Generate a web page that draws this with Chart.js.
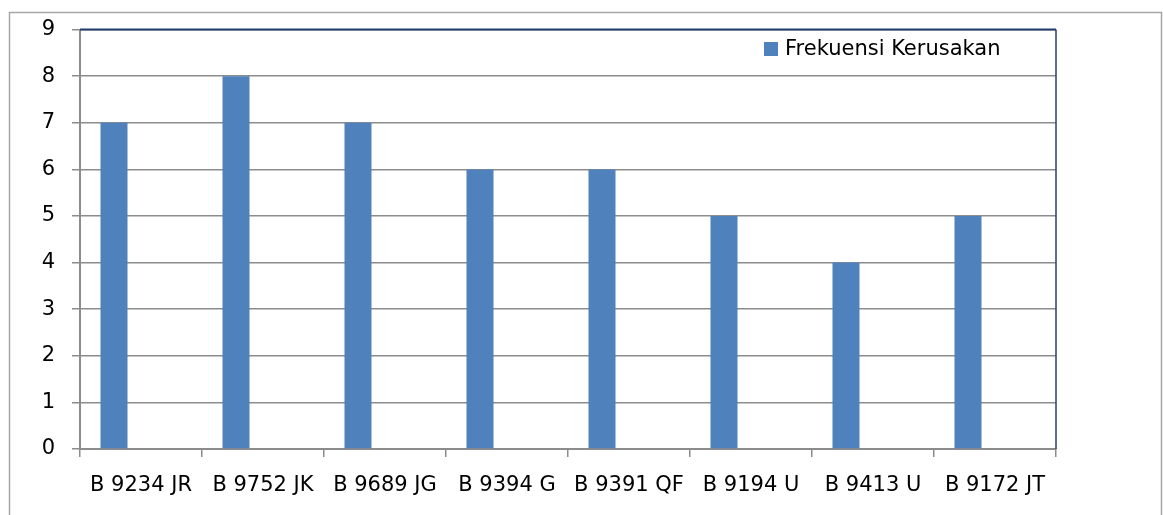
<!DOCTYPE html>
<html>
<head>
<meta charset="utf-8">
<script src="https://cdn.jsdelivr.net/npm/chart.js@4.4.0/dist/chart.umd.min.js"></script>
<style>
html,body{margin:0;padding:0;background:#fff;}
#wrap{width:1163px;height:515px;position:relative;}
</style>
</head>
<body>
<div id="wrap"><canvas id="c" width="1163" height="515"></canvas></div>
<script>
const categories = ["B 9234 JR","B 9752 JK","B 9689 JG","B 9394 G","B 9391 QF","B 9194 U","B 9413 U","B 9172 JT"];
const frekuensi = [7,8,7,6,6,5,4,5];
const seriesLabel = "Frekuensi Kerusakan";
const yTicks = [0,1,2,3,4,5,6,7,8,9];

const FONT = "'DejaVu Sans', sans-serif";
const GRID = "#8c8c8c";
const NAVY = "#243f6b";
const BAR = "#4f81bd";

const frame = {
  id: 'frame',
  beforeDraw(chart) {
    const ctx = chart.ctx;
    ctx.save();
    ctx.strokeStyle = "#a6a6a6";
    ctx.lineWidth = 1.5;
    ctx.beginPath();
    ctx.moveTo(9.5, 530);
    ctx.lineTo(9.5, 12.5);
    ctx.lineTo(1161.5, 12.5);
    ctx.lineTo(1161.5, 530);
    ctx.stroke();
    ctx.restore();
  },
  afterDraw(chart) {
    const ctx = chart.ctx;
    const a = chart.chartArea;
    ctx.save();
    ctx.strokeStyle = NAVY;
    ctx.lineWidth = 2;
    ctx.beginPath();
    ctx.moveTo(a.left, a.top);
    ctx.lineTo(a.right, a.top);
    ctx.stroke();
    ctx.lineWidth = 1.5;
    ctx.beginPath();
    ctx.moveTo(a.right, a.top);
    ctx.lineTo(a.right, a.bottom);
    ctx.stroke();
    // legend
    const ds = chart.data.datasets[0];
    ctx.fillStyle = ds.backgroundColor;
    ctx.fillRect(764, 42, 14, 14);
    ctx.fillStyle = "#000";
    ctx.font = "21px " + FONT;
    ctx.textBaseline = "middle";
    ctx.textAlign = "left";
    ctx.fillText(ds.label, 785, 50);
    ctx.restore();
  }
};

new Chart(document.getElementById('c'), {
  type: 'bar',
  data: {
    labels: categories,
    datasets: [
      { label: seriesLabel, data: frekuensi, backgroundColor: BAR },
      { label: "", data: [], backgroundColor: "rgba(0,0,0,0)" },
      { label: " ", data: [], backgroundColor: "rgba(0,0,0,0)" }
    ]
  },
  options: {
    responsive: false,
    animation: false,
    devicePixelRatio: 1,
    layout: { padding: { left: 0, top: 27, right: 107, bottom: 0 } },
    datasets: { bar: { categoryPercentage: 0.664, barPercentage: 1.0 } },
    plugins: { legend: { display: false }, tooltip: { enabled: false } },
    scales: {
      x: {
        grid: { offset: true, drawOnChartArea: false, drawTicks: true, tickLength: 8, color: GRID, lineWidth: 1.5 },
        border: { color: GRID, width: 2 },
        ticks: { color: "#000", font: { family: FONT, size: 21 }, padding: 16, maxRotation: 0, autoSkip: false },
        afterFit(s) { s.height = 66; }
      },
      y: {
        min: 0, max: 9,
        afterBuildTicks(s) { s.ticks = yTicks.map(v => ({ value: v })); },
        grid: { color: GRID, lineWidth: 1.5, tickLength: 8 },
        border: { color: GRID, width: 2 },
        ticks: { color: "#000", font: { family: FONT, size: 21 }, padding: 17 },
        afterFit(s) { s.width = 80; }
      }
    }
  },
  plugins: [frame]
});
</script>
</body>
</html>
